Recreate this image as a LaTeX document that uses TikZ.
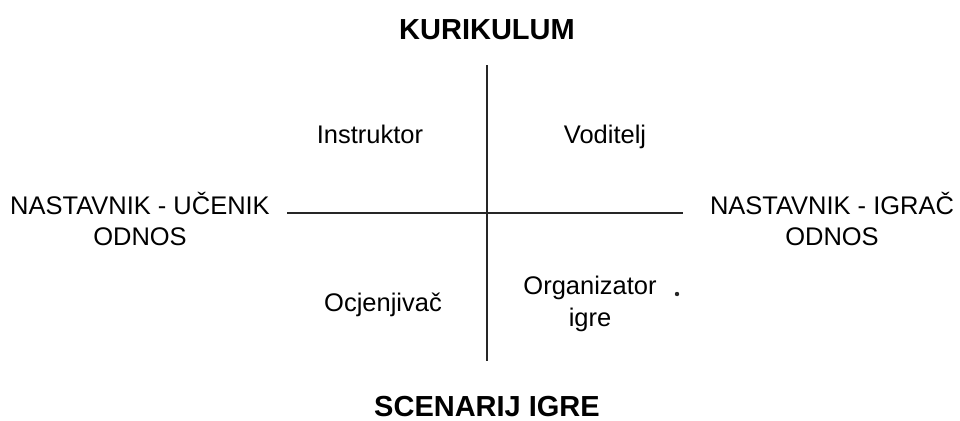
\documentclass[tikz,border=0pt]{standalone}
\usepackage{fontspec}
\setmainfont{Liberation Sans}
\usepackage{xcolor}
\usepackage{tikz}

\begin{document}
\begin{tikzpicture}[x=0.02cm,y=-0.02cm,every node/.style={align=center,font=\fontsize{14.5}{18}\selectfont},
    title/.style={font=\fontsize{16.5}{20}\selectfont\bfseries},
    axis/.style={line width=1.1pt,black!85}]
      \useasboundingbox (0,0) rectangle (960,420);
      \node[title] (kur) at (487,30) {KURIKULUM};
      \node[title,anchor=base] (scen) at (487,416) {SCENARIJ IGRE};
      \node (ucenik) at (140,219) {NASTAVNIK - UČENIK\\ODNOS};
      \node (igrac) at (832,219) {NASTAVNIK - IGRAČ\\ODNOS};
      \node[anchor=base] (instr) at (370,143) {Instruktor};
      \node[anchor=base] (vod) at (605,143) {Voditelj};
      \node[anchor=base] (ocj) at (383,311) {Ocjenjivač};
      \node (org) at (590,304) {Organizator\\igre};
      \node[circle,fill=black!85,inner sep=0pt,minimum size=2.5pt] (dot) at (677,294) {};
      \coordinate (top) at (487,65);
      \coordinate (bottom) at (487,361);
      \coordinate (left) at (287,213);
      \coordinate (right) at (683,213);
      \draw[axis] (top) -- (bottom);
      \draw[axis] (left) -- (right);
\end{tikzpicture}
\end{document}
